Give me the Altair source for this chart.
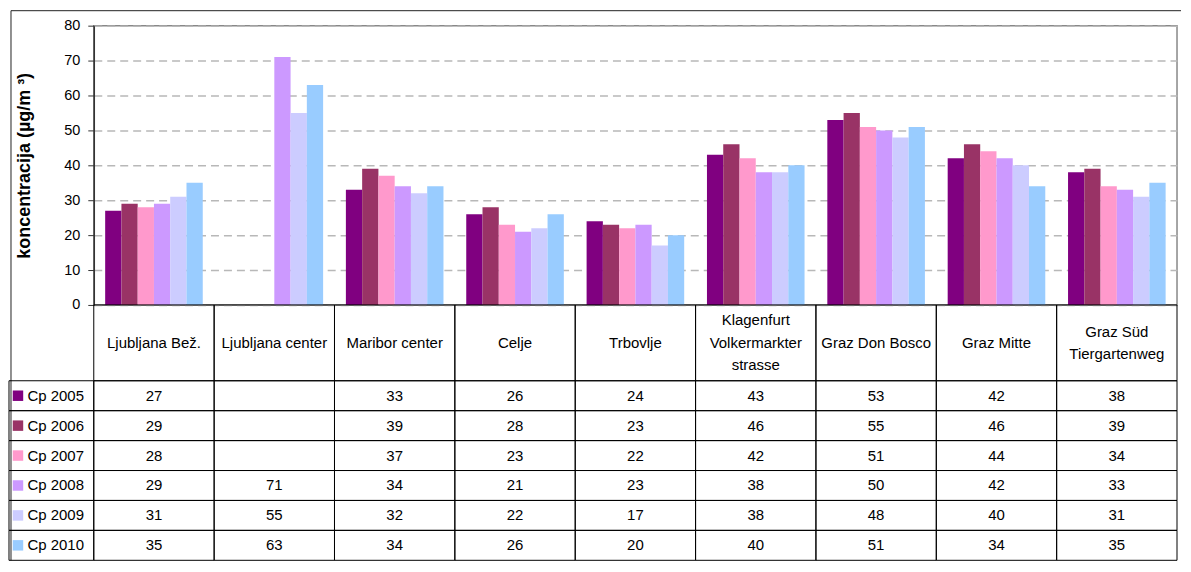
import altair as alt
import pandas as pd

stations = ["Ljubljana Bež.", "Ljubljana center", "Maribor center", "Celje", "Trbovlje",
            "Klagenfurt Volkermarkter strasse", "Graz Don Bosco", "Graz Mitte",
            "Graz Süd Tiergartenweg"]
station_labels = ["Ljubljana Bež.", "Ljubljana center", "Maribor center", "Celje", "Trbovlje",
                  "Klagenfurt|Volkermarkter|strasse", "Graz Don Bosco", "Graz Mitte",
                  "Graz Süd|Tiergartenweg"]
series = ["Cp 2005", "Cp 2006", "Cp 2007", "Cp 2008", "Cp 2009", "Cp 2010"]
cp2005 = [27, None, 33, 26, 24, 43, 53, 42, 38]
cp2006 = [29, None, 39, 28, 23, 46, 55, 46, 39]
cp2007 = [28, None, 37, 23, 22, 42, 51, 44, 34]
cp2008 = [29, 71, 34, 21, 23, 38, 50, 42, 33]
cp2009 = [31, 55, 32, 22, 17, 38, 48, 40, 31]
cp2010 = [35, 63, 34, 26, 20, 40, 51, 34, 35]
colors = ["#800080", "#993366", "#FF99CC", "#CC99FF", "#CCCCFF", "#99CCFF"]
y_ticks = [0, 10, 20, 30, 40, 50, 60, 70, 80]
y_title = "koncentracija (µg/m ³)"

values_by_series = [cp2005, cp2006, cp2007, cp2008, cp2009, cp2010]
rows = []
for s, vals in zip(series, values_by_series):
    for st, v in zip(stations, vals):
        rows.append({"station": st, "series": s, "value": v})
df = pd.DataFrame(rows)
hdf = pd.DataFrame({"station": stations, "label": station_labels})
sdf = pd.DataFrame({"series": series})

W = 1086
H = 280
HEAD_H = 76
ROW_H = 30
LH = 22.5
FONT = "Liberation Sans"
TXT = 15

xscale = alt.Scale(domain=stations, paddingInner=0, paddingOuter=0)
color = alt.Color("series:N", scale=alt.Scale(domain=series, range=colors), legend=None)

bars = alt.Chart(df).transform_filter("isValid(datum.value)").mark_bar().encode(
    x=alt.X("station:N", scale=xscale, axis=None, sort=stations),
    xOffset=alt.XOffset("series:N", scale=alt.Scale(domain=series, paddingInner=0, paddingOuter=0.7)),
    y=alt.Y("value:Q", scale=alt.Scale(domain=[0, 80], nice=False),
            axis=alt.Axis(values=y_ticks, title=y_title, grid=True, gridDash=[8, 5],
                          gridColor="#b8b8b8", gridWidth=1.5, domainColor="#333333",
                          domainWidth=1.5, tickColor="#333333", tickSize=6, labelPadding=8,
                          labelFontSize=14.5, labelColor="black", titleFontSize=18,
                          titleFontWeight="bold", titleColor="black", titlePadding=30)),
    color=color,
)

frame_top = alt.Chart(alt.Data(values=[{}])).mark_rule(color="#222222", strokeWidth=1).encode(
    x=alt.value(-83), x2=alt.value(1090), y=alt.value(-15))
frame_left = alt.Chart(alt.Data(values=[{}])).mark_rule(color="#222222", strokeWidth=1).encode(
    x=alt.value(-83), y=alt.value(-15), y2=alt.value(H + HEAD_H + 6 * ROW_H))

top = alt.layer(frame_top, frame_left, bars).properties(
    width=W, height=H, view=alt.ViewBackground(stroke="#888888", strokeWidth=1.5))

head_cells = alt.Chart(hdf).mark_rect(filled=False, stroke="black", strokeWidth=1).encode(
    x=alt.X("station:N", scale=xscale, axis=None, sort=stations),
    y=alt.value(0), y2=alt.value(HEAD_H))
head_text = alt.Chart(hdf).transform_calculate(
    ty=f"{HEAD_H / 2} - (length(split(datum.label, '|')) - 1) * {LH / 2}"
).mark_text(fontSize=TXT, lineBreak="|", lineHeight=LH, baseline="middle", color="black").encode(
    x=alt.X("station:N", scale=xscale, axis=None, sort=stations),
    y=alt.Y("ty:Q", scale=None), text="label:N")
header = alt.layer(head_cells, head_text).properties(
    width=W, height=HEAD_H, view=alt.ViewBackground(strokeOpacity=0))

yrow = alt.Y("series:N", scale=alt.Scale(domain=series, paddingInner=0, paddingOuter=0),
             axis=alt.Axis(title=None, ticks=False, tickSize=0, domain=False, labelAlign="left",
                           labelPadding=67, labelFontSize=TXT, labelColor="black",
                           labelBaseline="middle", zindex=1))
xcol = alt.X("station:N", scale=xscale, axis=None, sort=stations)

legend_cells = alt.Chart(sdf).mark_rect(filled=False, stroke="black", strokeWidth=1).encode(
    x=alt.value(-85), x2=alt.value(0), y=yrow)
cells = alt.Chart(df).mark_rect(filled=False, stroke="black", strokeWidth=1).encode(
    x=xcol, y=yrow)
swatches = alt.Chart(sdf).mark_point(shape="square", filled=True, size=110, opacity=1).encode(
    x=alt.value(-76), y=yrow, color=color)
cell_text = alt.Chart(df).transform_filter("isValid(datum.value)").mark_text(
    fontSize=TXT, baseline="middle", color="black").encode(
    x=xcol, y=yrow, text=alt.Text("value:Q", format="d"))
table = alt.layer(legend_cells, cells, swatches, cell_text).properties(
    width=W, height=6 * ROW_H, view=alt.ViewBackground(strokeOpacity=0))

chart = alt.vconcat(top, header, table, spacing=0, bounds="flush").properties(
    padding={"left": 0, "top": 0, "right": 0, "bottom": 0}
).configure(font=FONT).configure_axis(labelFont=FONT, titleFont=FONT)

chart.save("out.html", embed_options={"renderer": "svg", "actions": False})
